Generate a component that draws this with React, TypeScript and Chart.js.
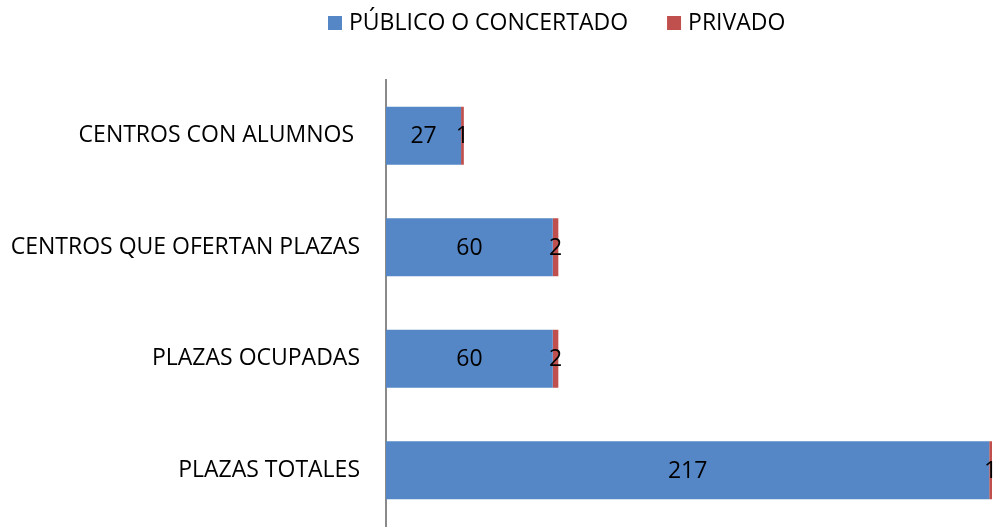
import React, { useEffect, useRef } from "react";
import { Chart, registerables } from "chart.js";

Chart.register(...registerables);

const categories = [
  "CENTROS CON ALUMNOS ",
  "CENTROS QUE OFERTAN PLAZAS",
  "PLAZAS OCUPADAS",
  "PLAZAS TOTALES",
];
const seriesNames = ["PÚBLICO O CONCERTADO", "PRIVADO"];
const publico = [27, 60, 60, 217];
const privado = [1, 2, 2, 1];
const xMax = 218;

const BLUE = "#5587c7";
const RED = "#c0504d";
const FONT = "'Open Sans', 'Noto Sans', sans-serif";
const FONT_SIZE = 23;

const labelsPlugin = {
  id: "valueLabels",
  afterDatasetsDraw(chart: any) {
    const ctx = chart.ctx;
    ctx.save();
    ctx.font = `${FONT_SIZE}px ${FONT}`;
    ctx.fillStyle = "#000";
    ctx.textAlign = "center";
    ctx.textBaseline = "middle";
    chart.data.datasets.forEach((ds: any, di: number) => {
      const meta = chart.getDatasetMeta(di);
      meta.data.forEach((el: any, i: number) => {
        const cx = (el.x + el.base) / 2;
        ctx.fillText(String(ds.data[i]), cx, el.y + 1);
      });
    });
    ctx.restore();
  },
};

const legendPlugin = {
  id: "customLegend",
  afterDraw(chart: any) {
    const ctx = chart.ctx;
    ctx.save();
    ctx.font = `${FONT_SIZE}px ${FONT}`;
    ctx.textBaseline = "middle";
    ctx.textAlign = "left";
    const colors = [BLUE, RED];
    let x = 328;
    const y = 23;
    seriesNames.forEach((name, i) => {
      ctx.fillStyle = colors[i];
      ctx.fillRect(x, y - 7, 14, 14);
      ctx.fillStyle = "#000";
      ctx.fillText(name, x + 21, y);
      x = x + 21 + ctx.measureText(name).width + 39;
    });
    ctx.restore();
  },
};

export default function App() {
  const ref = useRef<HTMLCanvasElement | null>(null);
  useEffect(() => {
    if (!ref.current) return;
    const chart = new Chart(ref.current, {
      type: "bar",
      data: {
        labels: categories,
        datasets: [
          {
            label: seriesNames[0],
            data: publico,
            backgroundColor: BLUE,
            borderWidth: 0,
            categoryPercentage: 1,
            barPercentage: 0.52,
          },
          {
            label: seriesNames[1],
            data: privado,
            backgroundColor: RED,
            borderWidth: 0,
            categoryPercentage: 1,
            barPercentage: 0.52,
          },
        ],
      },
      options: {
        indexAxis: "y",
        animation: false,
        responsive: false,
        layout: { padding: { top: 80, bottom: 4, right: 2, left: 0 } },
        plugins: {
          legend: { display: false },
          tooltip: { enabled: false },
        },
        scales: {
          x: {
            stacked: true,
            min: 0,
            max: xMax,
            display: false,
          },
          y: {
            stacked: true,
            grid: { display: false, drawTicks: false },
            border: { display: true, color: "#8a8a8a", width: 2 },
            ticks: {
              color: "#000",
              padding: 26,
              font: { family: FONT, size: FONT_SIZE },
            },
            afterFit(scale: any) {
              scale.width = 386;
              scale.paddingTop = 0;
              scale.paddingBottom = 0;
            },
          },
        },
      },
      plugins: [labelsPlugin, legendPlugin],
    } as any);
    return () => chart.destroy();
  }, []);
  return (
    <div style={{ position: "absolute", left: 0, top: 0, width: 994, height: 530, background: "#fff" }}>
      <canvas ref={ref} width={994} height={530} style={{ display: "block", width: 994, height: 530 }} />
    </div>
  );
}
